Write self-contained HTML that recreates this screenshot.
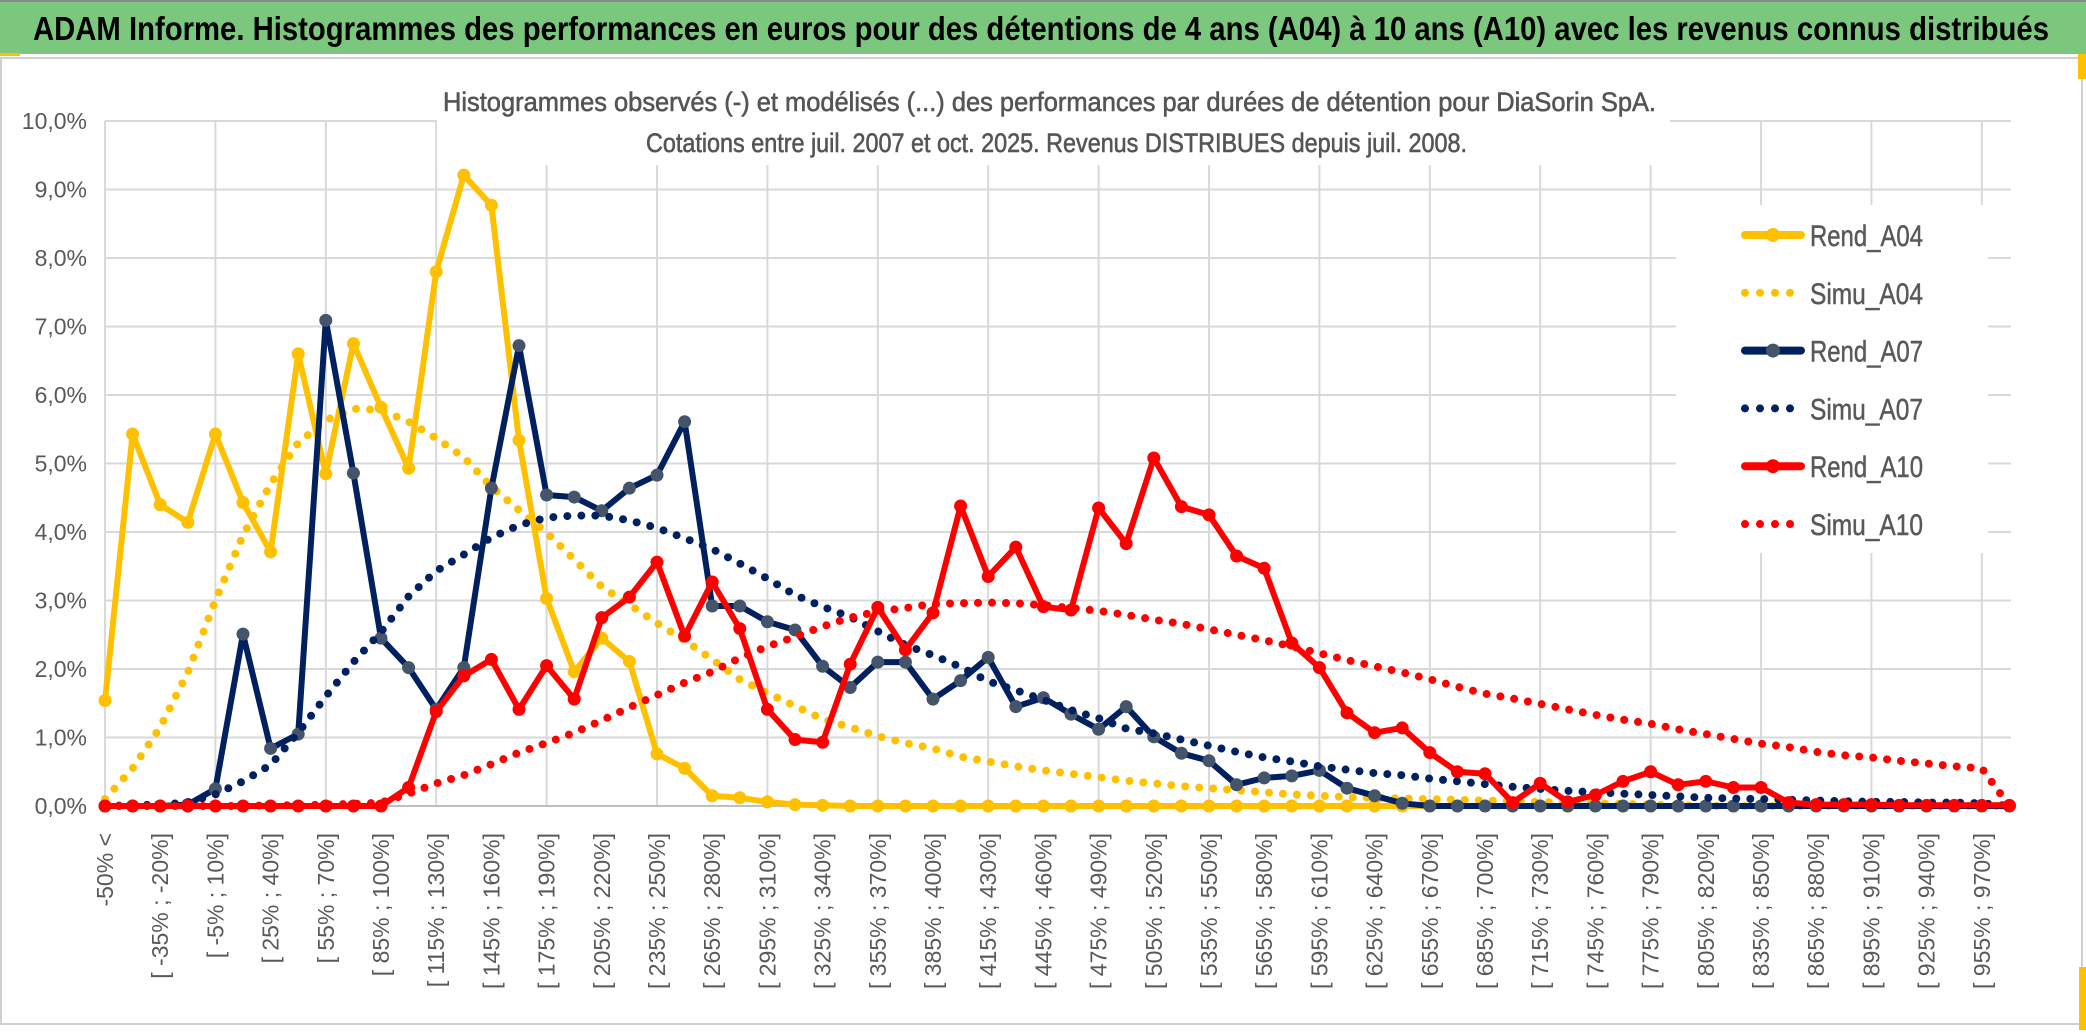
<!DOCTYPE html>
<html><head><meta charset="utf-8"><style>
html,body{margin:0;padding:0;background:#fff;}
svg{display:block;font-family:"Liberation Sans Narrow","Liberation Sans",sans-serif;}
</style></head><body>
<svg id="chart" width="2086" height="1033" viewBox="0 0 2086 1033" xmlns="http://www.w3.org/2000/svg">
<rect x="0" y="0" width="2086" height="1033" fill="#fff"/>
<rect x="1" y="58" width="2081" height="966" fill="#fff" stroke="#d0d0d0" stroke-width="2"/>
<rect x="0" y="0" width="2086" height="54" fill="#7cc77e"/>
<rect x="0" y="0" width="2086" height="2" fill="#8a8a8a"/>
<rect x="0" y="53" width="20" height="3" fill="#ffc000"/>
<rect x="2078" y="54" width="8" height="25" fill="#ffc000"/>
<rect x="2079" y="967" width="7" height="63" fill="#ffc000"/>
<text x="33" y="40" font-size="33" font-weight="bold" fill="#000" textLength="2016" lengthAdjust="spacingAndGlyphs">ADAM Informe. Histogrammes des performances en euros pour des détentions de 4 ans (A04) à 10 ans (A10) avec les revenus connus distribués</text>
<g id="grid"></g>
<rect x="437" y="60" width="1233" height="105" fill="#fff"/>
<text x="443" y="111" font-size="27" fill="#555" stroke="#555" stroke-width="0.6" textLength="1213" lengthAdjust="spacingAndGlyphs">Histogrammes observés (-) et modélisés (...) des performances par durées de détention pour DiaSorin SpA.</text>
<text x="646" y="152" font-size="27" fill="#555" stroke="#555" stroke-width="0.6" textLength="821" lengthAdjust="spacingAndGlyphs">Cotations entre juil. 2007 et oct. 2025. Revenus DISTRIBUES depuis juil. 2008.</text>
<rect x="1676" y="205" width="312" height="348" fill="#fff"/>
<g id="axes"></g>
<g id="series"></g>
<g id="legend"></g>
</svg>
<script>
const rendA04 = [1.54,5.43,4.40,4.14,5.43,4.43,3.71,6.6,4.85,6.75,5.82,4.93,7.8,9.21,8.77,5.34,3.03,1.96,2.45,2.11,0.76,0.55,0.15,0.12,0.06,0.02,0.01,0,0,0,0,0,0,0,0,0,0,0,0,0,0,0,0,0,0,0,0,0,0,0,0,0,0,0,0,0,0,0,0,0,0,0,0,0,0,0,0,0,0,0];
const simuA04 = [0.1,0.55,1.15,1.95,3.0,3.95,4.7,5.3,5.63,5.8,5.78,5.61,5.37,5.09,4.66,4.32,3.99,3.6,3.2,2.94,2.67,2.42,2.14,1.85,1.65,1.46,1.27,1.15,1.02,0.92,0.84,0.72,0.65,0.58,0.52,0.47,0.42,0.37,0.33,0.29,0.26,0.23,0.2,0.17,0.15,0.13,0.12,0.11,0.1,0.09,0.08,0.07,0.06,0.05,0.04,0.03,0.02,0.01,0,0,0,0,0,0,0,0,0,0,0,0];
const rendA07 = [0,0,0,0.02,0.25,2.51,0.84,1.05,7.09,4.86,2.45,2.02,1.41,2.02,4.64,6.72,4.54,4.51,4.31,4.64,4.83,5.61,2.92,2.92,2.69,2.57,2.04,1.73,2.10,2.10,1.56,1.83,2.17,1.45,1.58,1.34,1.12,1.45,1.01,0.77,0.66,0.31,0.41,0.44,0.52,0.26,0.15,0.04,0,0,0,0,0,0,0,0,0,0,0,0,0,0,0,0,0,0,0,0,0,0];
const simuA07 = [0,0.01,0.02,0.05,0.17,0.36,0.6,1.07,1.6,2.1,2.54,3.06,3.43,3.67,3.92,4.1,4.21,4.24,4.24,4.17,4.06,3.91,3.75,3.54,3.32,3.08,2.91,2.76,2.55,2.35,2.2,2.03,1.82,1.69,1.55,1.4,1.28,1.13,1.06,0.97,0.88,0.79,0.71,0.65,0.58,0.53,0.48,0.45,0.4,0.36,0.32,0.28,0.25,0.22,0.2,0.18,0.16,0.14,0.12,0.11,0.1,0.09,0.08,0.07,0.06,0.06,0.05,0.05,0.04,0];
const rendA10 = [0,0,0,0,0,0,0,0,0,0,0,0.27,1.38,1.90,2.14,1.41,2.05,1.56,2.75,3.05,3.56,2.48,3.27,2.59,1.41,0.97,0.93,2.07,2.90,2.28,2.82,4.38,3.35,3.78,2.91,2.86,4.35,3.83,5.08,4.37,4.25,3.65,3.47,2.38,2.02,1.36,1.07,1.14,0.78,0.50,0.47,0.05,0.33,0.06,0.16,0.36,0.50,0.31,0.36,0.27,0.27,0.05,0.02,0.02,0.02,0.01,0.01,0.01,0.01,0.01];
const simuA10 = [0,0,0,0,0,0,0.01,0.01,0.02,0.03,0.05,0.18,0.33,0.45,0.61,0.78,0.92,1.07,1.25,1.44,1.62,1.8,1.96,2.16,2.33,2.47,2.62,2.75,2.84,2.89,2.95,2.96,2.97,2.96,2.93,2.89,2.85,2.79,2.72,2.66,2.58,2.5,2.42,2.33,2.23,2.13,2.04,1.95,1.85,1.74,1.64,1.57,1.49,1.41,1.33,1.26,1.2,1.12,1.05,0.98,0.91,0.86,0.79,0.74,0.71,0.66,0.62,0.58,0.55,0];
const yTicks = [0,1,2,3,4,5,6,7,8,9,10];
const legendNames = ["Rend_A04","Simu_A04","Rend_A07","Simu_A07","Rend_A10","Simu_A10"];

const NS = "http://www.w3.org/2000/svg";
const N = rendA04.length;
const X0 = 105, X1 = 2011, Y0 = 806, Y1 = 121;
const step = 27.6;
function xs(i){ return X0 + i * step; }
function ys(v){ return Y0 - (v / 10) * (Y0 - Y1); }
function catLabel(i){
  if (i === 0) return "-50% <";
  if (i === N - 1) return "> 970%";
  const lo = -50 + 15 * (i - 1);
  return "[ " + lo + "% ; " + (lo + 15) + "%]";
}
function mk(tag, attrs, parent){
  const e = document.createElementNS(NS, tag);
  for (const k in attrs) e.setAttribute(k, attrs[k]);
  parent.appendChild(e);
  return e;
}
const grid = document.getElementById('grid');
const axes = document.getElementById('axes');
const series = document.getElementById('series');
const legend = document.getElementById('legend');

yTicks.forEach(t => {
  const l = mk('line', {x1: X0, x2: X1, y1: ys(t), y2: ys(t), stroke: '#d9d9d9', 'stroke-width': 2}, grid);
  
  
  const tx = mk('text', {x: 87, y: ys(t) + 8, 'text-anchor': 'end', 'font-size': 23, fill: '#595959'}, axes);
  tx.textContent = t.toFixed(1).replace('.', ',') + '%';
  
  
});
for (let i = 0; i < N; i += 4) {
  const l = mk('line', {x1: xs(i), x2: xs(i), y1: Y1, y2: Y0, stroke: '#d9d9d9', 'stroke-width': 2}, grid);
  
  
}
const ax = mk('line', {x1: X0, x2: X1, y1: Y0, y2: Y0, stroke: '#bfbfbf', 'stroke-width': 2}, axes);


for (let i = 0; i < N; i += 2) {
  const x = xs(i) + 8;
  const tx = mk('text', {x: x, y: 833, 'text-anchor': 'end', 'font-size': 23, fill: '#595959', transform: 'rotate(-90 ' + x + ' 833)'}, axes);
  tx.textContent = catLabel(i);
  
  
}

function pts(arr){ return arr.map((v, i) => xs(i).toFixed(1) + ',' + ys(v).toFixed(1)).join(' '); }
function drawRend(arr, color, mcolor, name){
  const g = mk('g', {}, series);
  
  
  const pl = mk('polyline', {points: pts(arr), fill: 'none', stroke: color, 'stroke-width': 6, 'stroke-linejoin': 'round'}, g);
  
  
  arr.forEach((v, i) => {
    const c = mk('circle', {cx: xs(i), cy: ys(v), r: 6.5, fill: mcolor}, g);
    
    
  });
}
function drawSimu(arr, color, name){
  const pl = mk('polyline', {points: pts(arr), fill: 'none', stroke: color, 'stroke-width': 8, 'stroke-linecap': 'round', 'stroke-dasharray': '0 14'}, series);
  
  
}
drawRend(rendA04, '#ffc000', '#ffc000', 'rend-a04');
drawSimu(simuA04, '#ffc000', 'simu-a04');
drawRend(rendA07, '#002060', '#44546a', 'rend-a07');
drawSimu(simuA07, '#002060', 'simu-a07');
drawRend(rendA10, '#ff0000', '#ff0000', 'rend-a10');
drawSimu(simuA10, '#ff0000', 'simu-a10');

const legColors = ['#ffc000','#ffc000','#002060','#002060','#ff0000','#ff0000'];
const legMarks = ['#ffc000',null,'#44546a',null,'#ff0000',null];
legendNames.forEach((nm, k) => {
  const y = 235 + 57.8 * k;
  const g = mk('g', {}, legend);
  
  
  if (legMarks[k]) {
    mk('line', {x1: 1745, x2: 1801, y1: y, y2: y, stroke: legColors[k], 'stroke-width': 8, 'stroke-linecap': 'round'}, g);
    mk('circle', {cx: 1773, cy: y, r: 7, fill: legMarks[k]}, g);
  } else {
    mk('line', {x1: 1745, x2: 1795, y1: y, y2: y, stroke: legColors[k], 'stroke-width': 8, 'stroke-linecap': 'round', 'stroke-dasharray': '0 15'}, g);
  }
  const t = mk('text', {x: 1810, y: y + 11, 'font-size': 30, fill: '#595959', stroke: '#595959', 'stroke-width': 0.5, textLength: 113, lengthAdjust: 'spacingAndGlyphs'}, g);
  t.textContent = nm;
});
</script>
</body></html>
